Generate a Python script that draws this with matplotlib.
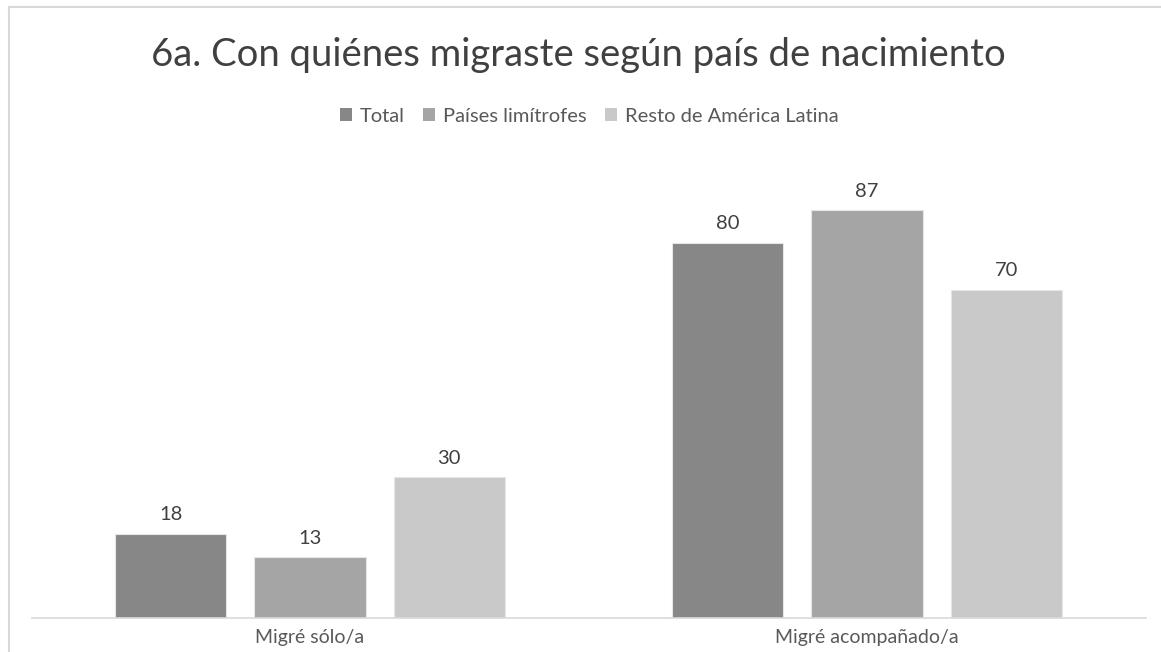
import matplotlib
matplotlib.use("Agg")
import matplotlib.pyplot as plt
from matplotlib.patches import Patch
from matplotlib.lines import Line2D
import numpy as np

plt.rcParams['font.family'] = ['Lato', 'DejaVu Sans']

categorias = ["Migré sólo/a", "Migré acompañado/a"]
series = ["Total", "Países limítrofes", "Resto de América Latina"]
valores = {
    "Total": [18, 80],
    "Países limítrofes": [13, 87],
    "Resto de América Latina": [30, 70],
}
colores = ["#878787", "#a5a5a5", "#c9c9c9"]

W, H = 1161, 652
fig = plt.figure(figsize=(W / 100, H / 100), dpi=100)

# marco del grafico (solo borde superior e izquierdo visibles)
fig.add_artist(Line2D([9 / W, 9 / W], [0, 1 - 7 / H], color="#d9d9d9", lw=1.5))
fig.add_artist(Line2D([9 / W, 1], [1 - 7 / H, 1 - 7 / H], color="#d9d9d9", lw=1.5))

# ejes: x de 31.5 a 1145.5 px, base en y=618, 100 unidades = 469 px
ax = fig.add_axes([31.5 / W, (H - 618) / H, (1145.5 - 31.5) / W, 469 / H])
x = np.arange(len(categorias))
ancho = 0.2
paso = 0.25
for i, s in enumerate(series):
    pos = x + (i - 1) * paso
    barras = ax.bar(pos, valores[s], ancho, color=colores[i], edgecolor="#e6e6e6",
                    linewidth=0.8, label=s, zorder=2)
    for b, v in zip(barras, valores[s]):
        ax.text(b.get_x() + b.get_width() / 2, v + 2.2, str(v), ha="center", va="bottom",
                fontsize=14.5, color="#404040")

ax.set_xlim(-0.5, 1.5)
ax.set_ylim(0, 100)
ax.set_yticks([])
ax.set_xticks(x)
ax.set_xticklabels(categorias, fontsize=14, color="#595959")
ax.tick_params(axis="x", length=0, pad=8)
for sp in ["top", "right", "left"]:
    ax.spines[sp].set_visible(False)
ax.spines["bottom"].set_color("#d9d9d9")
ax.spines["bottom"].set_linewidth(1.2)

fig.text(578 / W, 1 - 55 / H, "6a. Con quiénes migraste según país de nacimiento",
         ha="center", va="center", fontsize=27.5, color="#404040")

handles = [Patch(facecolor=c, edgecolor="none") for c in colores]
fig.legend(handles, series, loc="center", bbox_to_anchor=(589 / W, 1 - 116 / H),
           ncol=3, frameon=False, fontsize=14.5, labelcolor="#595959",
           handlelength=0.6, handleheight=0.6, handletextpad=0.4, columnspacing=0.9)

fig.savefig("out.png", dpi=100)
